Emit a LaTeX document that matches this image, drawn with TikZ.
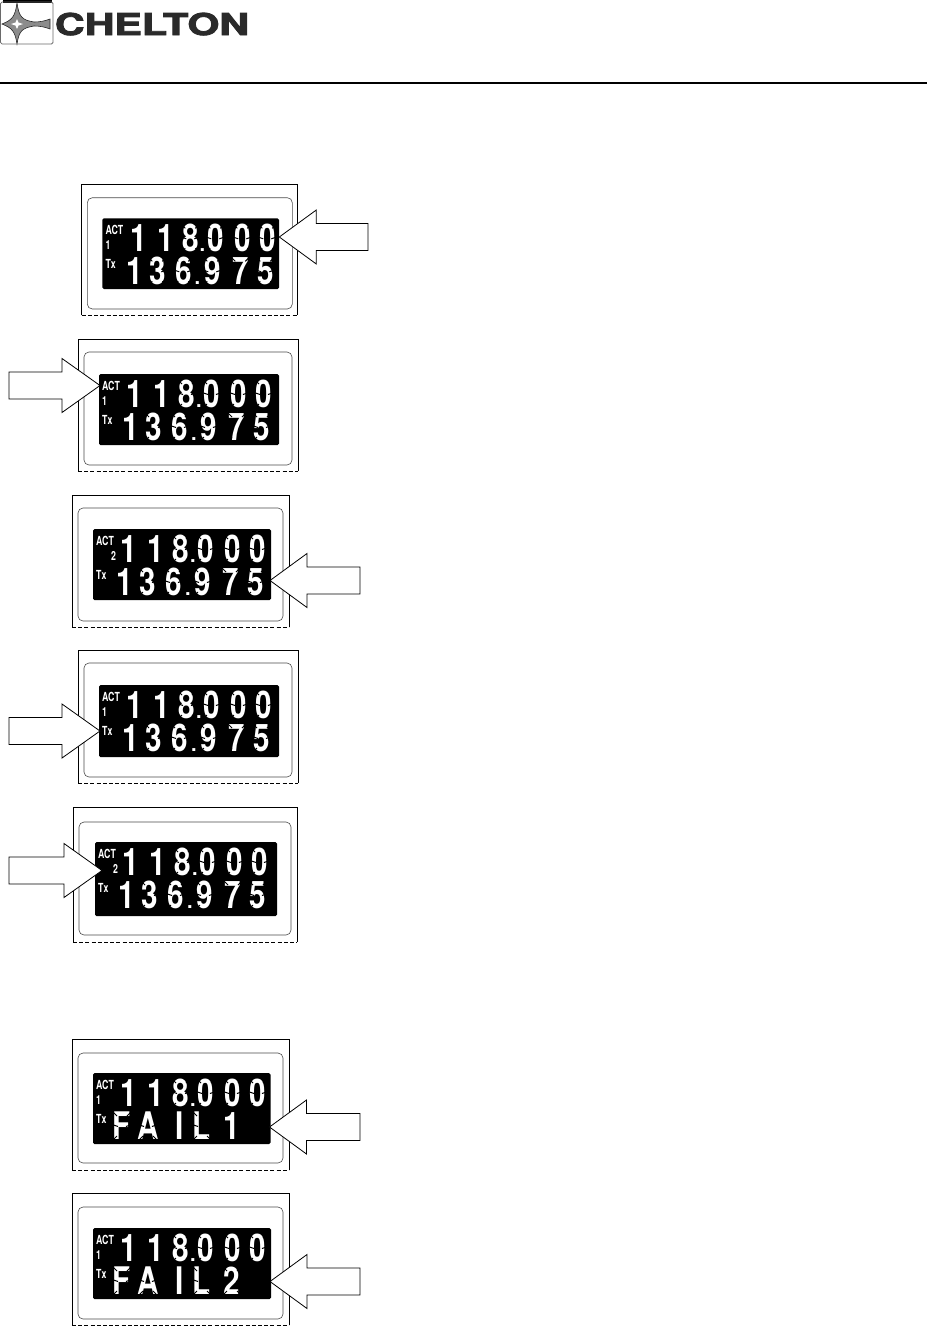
\documentclass[tikz,border=0pt]{standalone}
\usepackage{fontspec}
\setmainfont{TeX Gyre Heros}
\newfontfamily\logofont{TeX Gyre Heros}[BoldFeatures={FakeBold=2.6}]
\definecolor{logoink}{HTML}{2A2A2A}
\definecolor{logogray}{HTML}{8C8C8C}
\tikzset{
  outerline/.style={black,line width=.9pt},
  innerline/.style={black!70,line width=.6pt,rounded corners=5pt},
  lcdscreen/.style={fill=black,rounded corners=1.5pt},
  pointer/.style={draw=black,fill=white,line width=.8pt,miter limit=20},
  lcdchar/.style={text=white,inner sep=0pt,anchor=base,font=\bfseries\fontsize{38}{38}\selectfont},
  lcddot/.style={text=white,inner sep=0pt,anchor=base,font=\bfseries\fontsize{20}{20}\selectfont},
  lcdlabel/.style={text=white,inner sep=0pt,anchor=base west,font=\bfseries\fontsize{12.5}{12.5}\selectfont},
  cut/.style={black,line width=1pt},
}
\newcount\nodeno
\newcommand\freshname{\global\advance\nodeno by 1 }
% one LCD character with segment joints cut out of it
\newcommand\lcdc[3]{%
  \freshname
  \node[lcdchar] (c\the\nodeno) at (#1,#2+13.5) {\scalebox{.78}[1]{#3}};
  \draw[cut] (#1-10,#2-15) -- (#1-5,#2-10) (#1+10,#2-15) -- (#1+5,#2-10)
             (#1-10,#2+15) -- (#1-5,#2+10) (#1+10,#2+15) -- (#1+5,#2+10)
             (#1-10,#2-1.5) -- (#1-4,#2+.5) (#1+10,#2-1.5) -- (#1+4,#2+.5);
}
\newcommand\lcdd[2]{\freshname\node[lcddot] (c\the\nodeno) at (#1,#2+13.5) {.};}
\newcommand\lab[3]{\freshname\node[lcdlabel] (c\the\nodeno) at (#1,#2) {\scalebox{.7}[1]{#3}};}
% bezel: outer l,t,r,b then inner l,t,r,b
\newcommand\bezel[8]{%
  \draw[outerline] (#1,#4) -- (#1,#2) -- (#3,#2) -- (#3,#4);
  \draw[outerline,dashed,dash pattern=on 4pt off 2.2pt,line width=.7pt] (#1,#4) -- (#3,#4);
  \draw[innerline] (#5,#6) rectangle (#7,#8);
}
\newcommand\toprow{%
  \lcdc{36}{20}{1}\lcdc{63}{20}{1}\lcdc{88}{20}{8}\lcdd{100}{20}\lcdc{113}{20}{0}\lcdc{140}{20}{0}\lcdc{165}{20}{0}}
\newcommand\lowrow{%
  \lcdc{32}{53}{1}\lcdc{55}{53}{3}\lcdc{81}{53}{6}\lcdd{95}{53}\lcdc{110}{53}{9}\lcdc{138}{53}{7}\lcdc{163}{53}{5}}
\newcommand\failrow[1]{%
  \lcdc{29}{53}{F}\lcdc{55}{53}{A}\lcdc{87}{53}{I}\lcdc{109}{53}{L}\lcdc{139}{53}{#1}}
\newcommand\labels[1]{%
  \lab{3}{16}{ACT}\lab{#1}{31}{\ifnum#1>10 2\else 1\fi}\lab{3}{50}{Tx}}
\newcommand\rightptr[3]{% tipx, tipy, far right
  \draw[pointer] (#1,#2) -- (#1+37,#2-27) -- (#1+37,#2-13.5) -- (#3,#2-13.5)
     -- (#3,#2+13.5) -- (#1+37,#2+13.5) -- (#1+37,#2+27) -- cycle;}
\newcommand\leftptr[3]{% tipx, tipy, tail
  \draw[pointer] (#1,#2) -- (#1-38,#2-27) -- (#1-38,#2-13.5) -- (#3,#2-13.5)
     -- (#3,#2+13.5) -- (#1-38,#2+13.5) -- (#1-38,#2+27) -- cycle;}
\begin{document}
\begin{tikzpicture}[x=1pt,y=-1pt]
\useasboundingbox[fill=white] (0,0) rectangle (927,1326);
% header logo
\fill[black] (3,0) rectangle (52,2.5);
\draw[logoink!70,line width=.8pt,rounded corners=1.5pt] (0.6,2) rectangle (53,44);
\fill[logogray,draw=logoink,line width=.6pt]
  (17,3) .. controls (19,17) and (22,20) .. (34,22)
  .. controls (40,22) and (45,21) .. (50,19) -- (50,29)
  .. controls (45,27) and (40,26) .. (34,26)
  .. controls (22,28) and (19,31) .. (17,44)
  .. controls (15,31) and (12,28) .. (2,24)
  .. controls (12,20) and (15,17) .. (17,3) -- cycle;
\fill[white] (17,19) -- (18.5,22.5) -- (23,24) -- (18.5,25.5) -- (17,29) -- (15.5,25.5) -- (11,24) -- (15.5,22.5) -- cycle;
\node[text=logoink,inner sep=0pt,anchor=base,font=\logofont\bfseries\fontsize{30}{30}\selectfont] (logo) at (152,35) {\scalebox{1.37}[1]{CHELTON}};
\coordinate (ruleL) at (0,83);
\coordinate (ruleR) at (927,83);
\draw[black,line width=1.7pt] (ruleL) -- (ruleR);

% panel 1
\bezel{81.7}{184.3}{297.7}{315}{87.3}{197.7}{292.3}{309}
\fill[lcdscreen] (102.3,218.3) rectangle (279,289);
\begin{scope}[shift={(102.3,218.3)}]\toprow\lowrow\labels{3}\end{scope}
\rightptr{279.3}{237}{368}

% panel 2
\bezel{78}{339}{298}{471}{84}{352}{292}{465}
\fill[lcdscreen] (99,374) rectangle (279,445);
\begin{scope}[shift={(99,374)}]\toprow\lowrow\labels{3}\end{scope}
\leftptr{100}{385.5}{9}

% panel 3
\bezel{72}{495}{289}{627}{78}{508}{283}{621}
\fill[lcdscreen] (93,529) rectangle (271,600);
\begin{scope}[shift={(93,529)}]\toprow\lowrow\labels{18}\end{scope}
\rightptr{270}{580.5}{360}

% panel 4
\bezel{78}{650}{298}{783}{84}{663}{292}{777}
\fill[lcdscreen] (99,685) rectangle (279,757);
\begin{scope}[shift={(99,685)}]\toprow\lowrow\labels{3}\end{scope}
\leftptr{100}{731}{9}

% panel 5
\bezel{73}{807}{297}{942}{79}{822}{291}{935}
\fill[lcdscreen] (95,842) rectangle (277,916);
\begin{scope}[shift={(95,842)}]\toprow\lowrow\labels{18}\end{scope}
\leftptr{102}{870.5}{9}

% panel 6
\bezel{72}{1039}{289}{1170}{78}{1053}{283}{1163}
\fill[lcdscreen] (93,1073) rectangle (270.5,1144);
\begin{scope}[shift={(93,1073)}]\toprow\failrow{1}\labels{3}\end{scope}
\rightptr{269.5}{1127}{360}

% panel 7
\bezel{72}{1193}{289}{1325}{78}{1207}{283}{1319}
\fill[lcdscreen] (93,1228) rectangle (271,1299);
\begin{scope}[shift={(93,1228)}]\toprow\failrow{2}\labels{3}\end{scope}
\rightptr{270}{1281.5}{360}
\end{tikzpicture}
\end{document}
